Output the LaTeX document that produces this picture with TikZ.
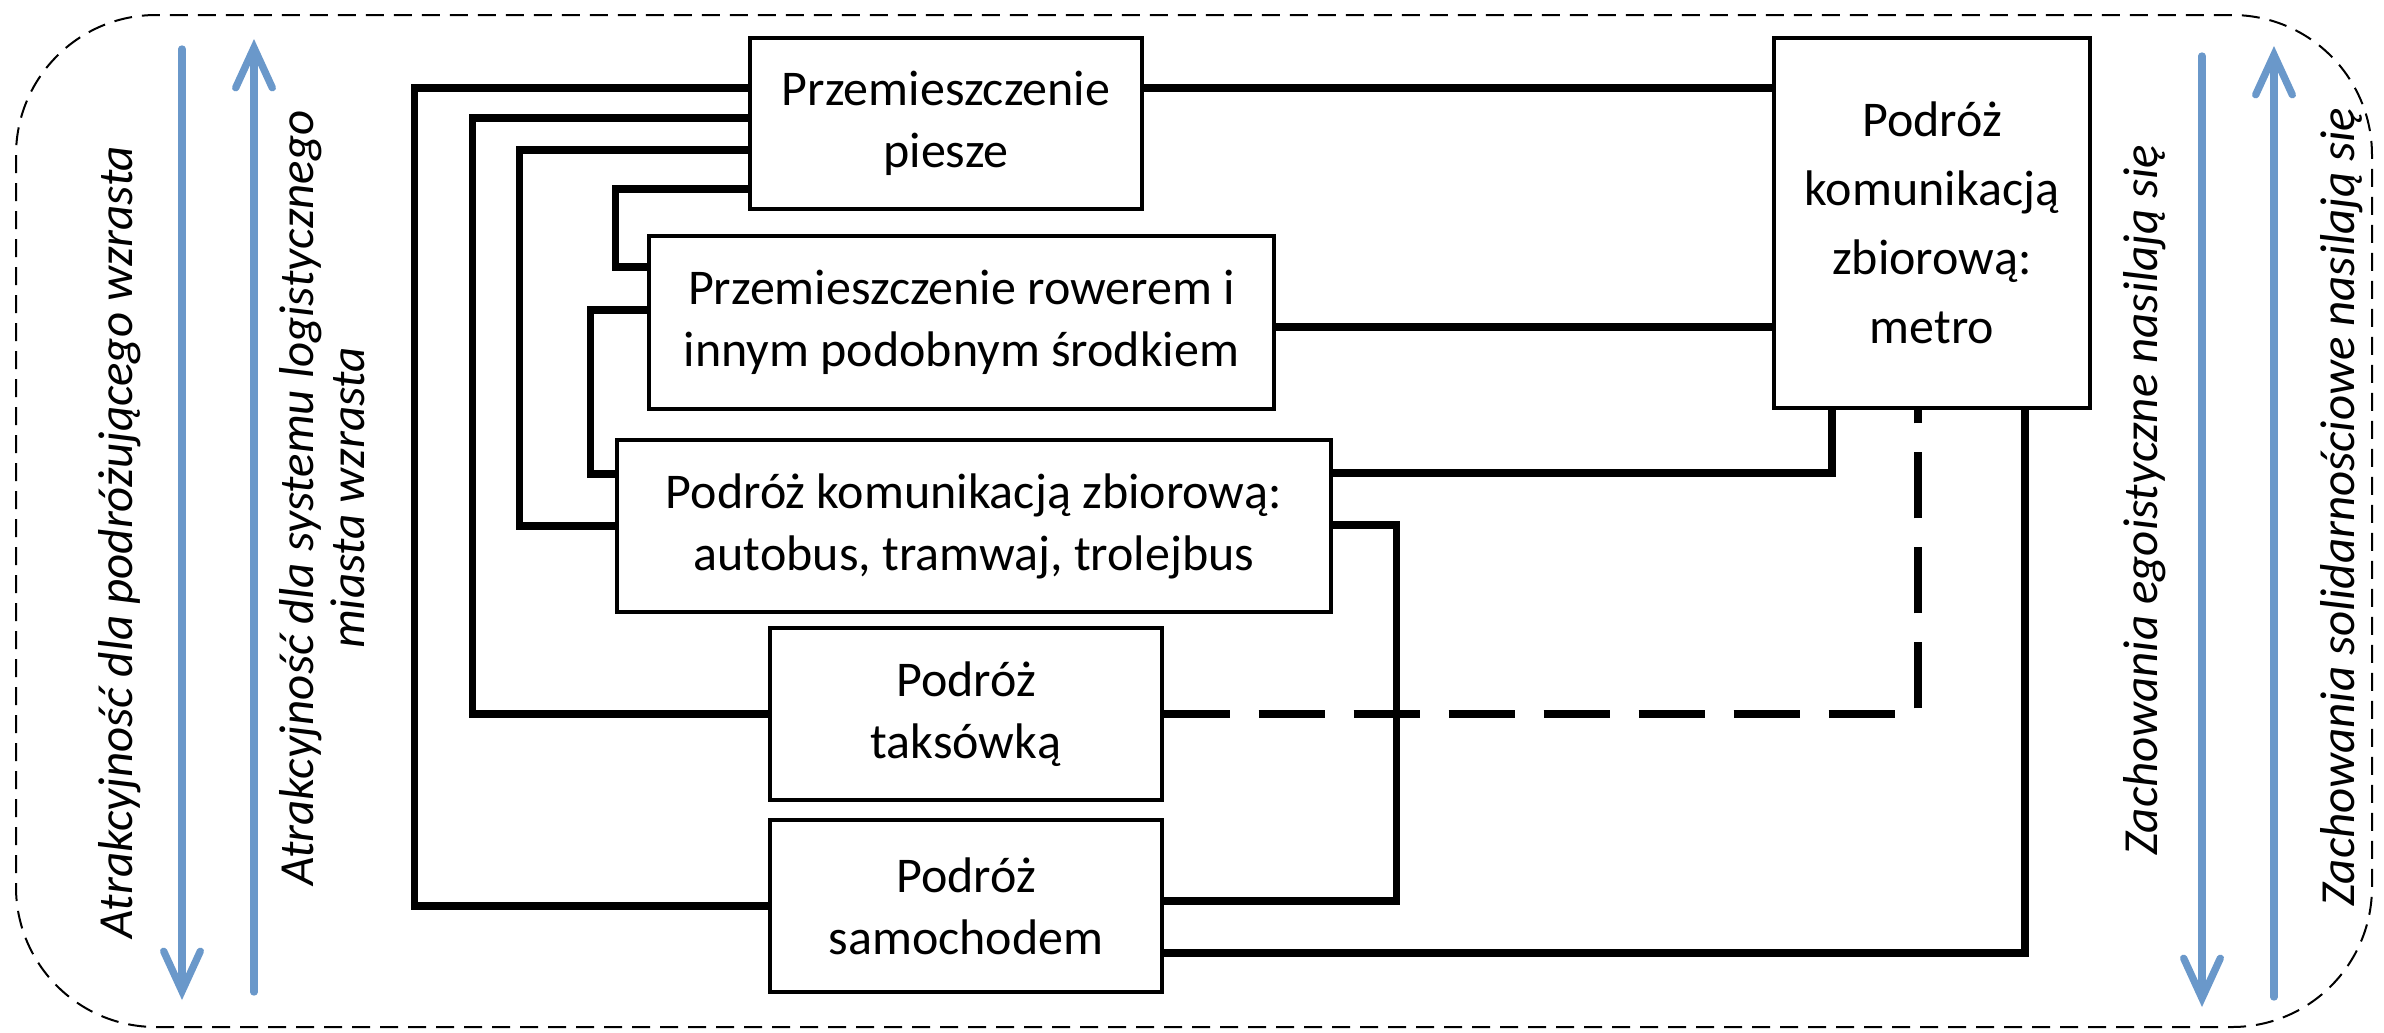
\documentclass[tikz,border=0pt]{standalone}
\usepackage{fontspec}
\setmainfont{Carlito}
\usetikzlibrary{arrows.meta}
\definecolor{trendblue}{RGB}{106,152,202}

\begin{document}
\begin{tikzpicture}[x=0.3pt, y=-0.3pt,
        box/.style = {draw, line width=1pt, fill=white, align=center, inner sep=0pt, font=\fontsize{15}{18.6}\selectfont},
        link/.style = {line width=2.2pt},
        side/.style = {rotate=90, align=center, font=\fontsize{14.7}{15.4}\selectfont\itshape},
        trend/.style = {trendblue, line width=2.2pt, line cap=round, -{Straight Barb[length=12pt, width=11pt, line cap=round]}}]
        \useasboundingbox (0,0) rectangle (2384,1032);
        \draw[dash pattern=on 5.4pt off 3pt, line width=0.6pt, rounded corners=42pt] (16,15) rectangle (2372,1027);

        \node[box, minimum width=117.6pt, minimum height=51.3pt] (1) at (946,123.5) {Przemieszczenie\\piesze};
        \node[box, minimum width=187.5pt, minimum height=51.9pt] (2) at (961.5,322.5) {Przemieszczenie rowerem i\\innym podobnym środkiem};
        \node[box, minimum width=214.2pt, minimum height=51.6pt] (3) at (974,526) {Podróż komunikacją zbiorową:\\autobus, tramwaj, trolejbus};
        \node[box, minimum width=117.6pt, minimum height=51.6pt] (4) at (966,714) {Podróż\\taksówką};
        \node[box, minimum width=117.6pt, minimum height=51.6pt] (5) at (966,906) {Podróż\\samochodem};
        \node[box, minimum width=94.8pt, minimum height=111pt, font=\fontsize{15}{20.7}\selectfont] (6) at (1932,223) {Podróż\\komunikacją\\zbiorową:\\metro};

        \draw[link] (1.west |- 0,88) -- ++(-334,0) |- (5);
        \draw[link] (1.west |- 0,118) -- ++(-276,0) |- (4);
        \draw[link] (1.west |- 0,150) -- ++(-229,0) |- (3);
        \draw[link] (1.west |- 0,189) -- ++(-133,0) |- (2.west |- 0,267);
        \draw[link] (2.west |- 0,310) -- ++(-57,0) |- (3.west |- 0,474);
        \draw[link] (1.east |- 0,88) -- (6.west |- 0,88);
        \draw[link] (2.east |- 0,327) -- (6.west |- 0,327);
        \draw[link] (3.east |- 0,473) -| (6.south -| 1832,0);
        \draw[link] (3.east |- 0,525) -- ++(64,0) |- (5.east |- 0,901);
        \draw[link, dash pattern=on 20pt off 8.5pt] (4.east) -| (6.south -| 1918,0);
        \draw[link] (5.east |- 0,953) -| (6.south -| 2025,0);

        \node[side] (a) at (120,542) {Atrakcyjność dla podróżującego wzrasta};
        \node[side] (b) at (322,498) {Atrakcyjność dla systemu logistycznego\\miasta wzrasta};
        \node[side] (c) at (2145,500) {Zachowania egoistyczne nasilają się};
        \node[side] (d) at (2342,507) {Zachowania solidarnościowe nasilają się};

        \draw[trend] (182,49) -- (182,1000);
        \draw[trend] (254,992) -- (254,39);
        \draw[trend] (2202,56) -- (2202,1007);
        \draw[trend] (2274,997) -- (2274,46);

    \end{tikzpicture}
\end{document}
